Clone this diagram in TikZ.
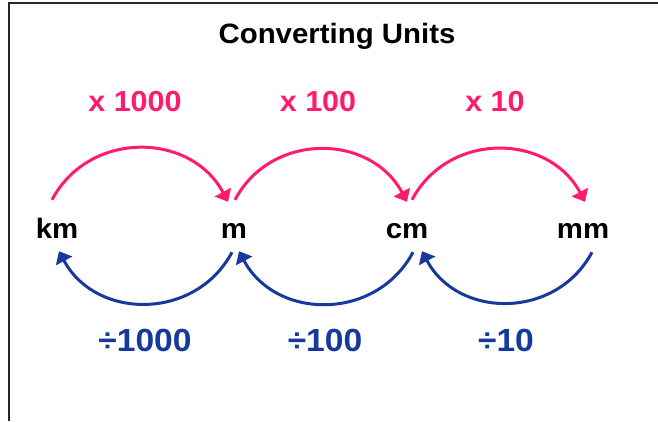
\documentclass[tikz,border=0pt]{standalone}
\usepackage{fontspec}
\setmainfont{Liberation Sans}[FakeStretch=1.05]
\usepackage{tikz}
\usetikzlibrary{arrows.meta, positioning}
\definecolor{mulpink}{RGB}{255,28,110}
\definecolor{divblue}{RGB}{22,58,155}

\begin{document}
\begin{tikzpicture}[
    x=1pt, y=1pt,
    unit/.style={anchor=base, inner sep=0pt, text height=19pt, text depth=0pt,
                 font=\fontsize{28}{30}\selectfont\bfseries},
    mullbl/.style={anchor=base, text=mulpink, font=\fontsize{29}{31}\selectfont\bfseries},
    divlbl/.style={anchor=base, text=divblue, font=\fontsize{32}{34}\selectfont\bfseries},
    mul/.style={-{Triangle[length=11pt,width=18pt]}, line width=3pt, mulpink},
    div/.style={-{Triangle[length=11pt,width=18pt]}, line width=3pt, divblue}
]
\useasboundingbox (0,0) rectangle (658,421);
\draw[line width=1.6pt, black!85] (9,0) -- (9,418) -- (658,418);

\node[anchor=base, font=\fontsize{28}{30}\selectfont\bfseries] (title) at (337,377) {Converting Units};

\node[unit] (km) at (57,183) {km};
\node[unit] (m) at (234,183) {m};
\node[unit] (cm) at (407,183) {cm};
\node[unit] (mm) at (583,183) {mm};

\node[mullbl] (x1000) at (135,309) {x 1000};
\node[mullbl] (x100) at (318,309) {x 100};
\node[mullbl] (x10) at (495,309) {x 10};

\node[divlbl] (d1000) at (145,70) {÷1000};
\node[divlbl] (d100) at (325,70) {÷100};
\node[divlbl] (d10) at (506,70) {÷10};

% multiply: left to right
\foreach \a/\b/\sa/\sb in {km/m/-5/-6, m/cm/1/0, cm/mm/5/2}
  \draw[mul] ([shift={(\sa,19)}]\a.north) to[out=62,in=118,looseness=1.15] ([shift={(\sb,17)}]\b.north);
% divide: right to left
\foreach \a/\b/\sa/\sb in {m/km/-2/2, cm/m/6/5, mm/cm/9/15}
  \draw[div] ([shift={(\sa,-14)}]\a.south) to[out=-118,in=-62,looseness=1.15] ([shift={(\sb,-13)}]\b.south);
\end{tikzpicture}
\end{document}
